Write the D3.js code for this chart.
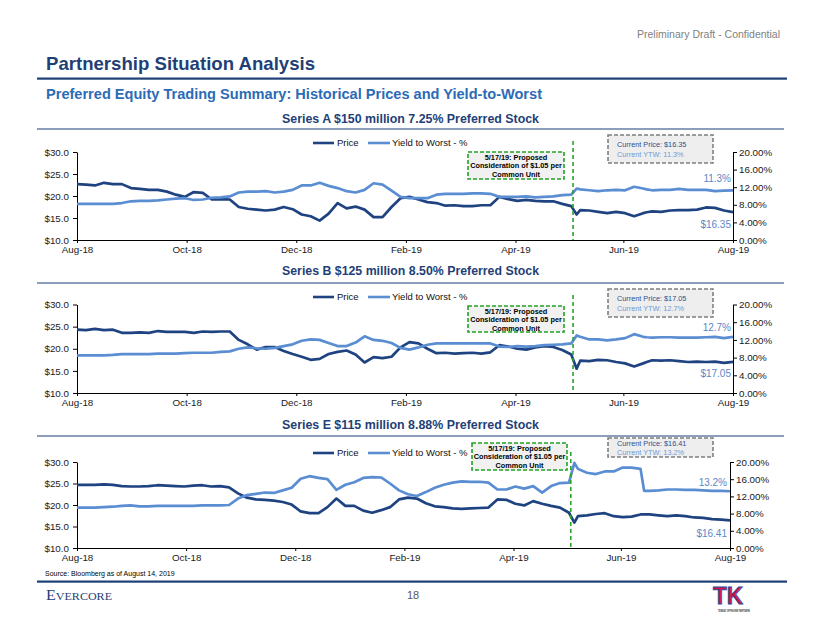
<!DOCTYPE html>
<html>
<head>
<meta charset="utf-8">
<script src="https://cdn.jsdelivr.net/npm/d3@7"></script>
<style>
  html, body { margin: 0; padding: 0; background: #ffffff; }
  svg { display: block; font-family: Arial, "Liberation Sans", sans-serif; }
</style>
</head>
<body>
<svg id="chart" width="822" height="635"></svg>
<script>
// ---------------- DATA ----------------
const dates = [
  "2018-08-14","2018-08-19","2018-08-24","2018-08-29","2018-09-03","2018-09-08","2018-09-13","2018-09-18","2018-09-23","2018-09-28",
  "2018-10-03","2018-10-08","2018-10-13","2018-10-18","2018-10-23","2018-10-28","2018-11-02","2018-11-07","2018-11-12","2018-11-17",
  "2018-11-22","2018-11-27","2018-12-02","2018-12-07","2018-12-12","2018-12-17","2018-12-22","2018-12-27","2019-01-01","2019-01-06",
  "2019-01-11","2019-01-16","2019-01-21","2019-01-26","2019-01-31","2019-02-05","2019-02-10","2019-02-15","2019-02-20","2019-02-25",
  "2019-03-02","2019-03-07","2019-03-12","2019-03-17","2019-03-22","2019-03-27","2019-04-01","2019-04-06","2019-04-11","2019-04-16",
  "2019-04-21","2019-04-26","2019-05-01","2019-05-06","2019-05-11","2019-05-16","2019-05-19","2019-05-21","2019-05-26","2019-05-31",
  "2019-06-05","2019-06-10","2019-06-15","2019-06-20","2019-06-25","2019-06-27","2019-06-30","2019-07-05","2019-07-10","2019-07-15",
  "2019-07-20","2019-07-25","2019-07-30","2019-08-04","2019-08-09","2019-08-14"
];

// Series A ($ price, YTW %)
const priceA = [
  22.7,22.6,22.4,23.0,22.7,22.7,21.8,21.6,21.4,21.4,
  21.0,20.3,19.8,20.9,20.7,19.2,19.3,19.2,17.5,17.1,
  16.9,16.7,16.9,17.5,17.0,15.8,15.4,14.4,16.0,18.4,
  17.2,17.6,16.9,15.2,15.2,17.5,19.5,19.8,19.2,18.6,
  18.4,17.8,17.9,17.7,17.7,17.9,17.9,19.8,19.3,18.9,
  19.1,18.9,18.8,18.8,18.2,17.7,15.8,16.8,16.7,16.4,
  16.1,16.4,16.1,15.4,16.1,16.3,16.5,16.4,16.7,16.8,
  16.8,16.9,17.4,17.3,16.7,16.35
];
const ytwA = [
  8.2,8.2,8.2,8.2,8.2,8.4,8.8,8.9,8.9,9.0,
  9.2,9.4,9.5,9.1,9.2,9.6,9.7,9.9,10.8,11.0,
  11.0,11.1,10.8,11.0,11.4,12.4,12.4,13.0,12.3,11.8,
  11.1,10.8,11.4,12.9,12.6,11.2,9.8,9.5,9.5,9.5,
  10.3,10.5,10.5,10.5,10.6,10.6,10.5,9.8,9.8,9.8,
  9.9,9.7,9.8,9.9,10.2,10.3,11.7,11.5,11.3,11.1,
  11.3,11.4,11.3,12.1,11.7,11.5,11.3,11.4,11.4,11.6,
  11.4,11.4,11.4,11.1,11.2,11.3
];

// Series B
const priceB = [
  24.3,24.2,24.5,24.2,24.3,23.6,23.6,23.7,23.6,24.0,
  23.8,23.8,23.8,23.6,23.9,23.8,23.9,23.9,22.0,21.0,
  19.8,20.4,20.4,19.5,18.8,18.2,17.5,17.7,18.8,19.3,
  19.6,18.7,16.9,18.1,17.9,18.2,20.3,21.5,21.2,20.0,
  19.0,19.1,18.9,19.0,19.1,18.9,19.2,20.8,20.5,20.0,
  19.8,20.3,20.6,20.4,19.7,18.7,15.5,17.3,17.2,17.5,
  17.4,17.0,16.7,16.0,16.7,17.0,17.4,17.3,17.4,17.2,
  17.0,17.1,17.0,17.1,16.8,17.05
];
const ytwB = [
  8.5,8.5,8.5,8.5,8.6,8.8,8.8,8.8,8.8,8.9,
  8.9,8.9,9.0,9.1,9.1,9.1,9.3,9.4,10.0,10.3,
  10.1,10.0,10.2,10.6,11.0,11.8,12.1,12.0,11.3,10.6,
  10.6,11.4,12.8,12.0,11.8,11.3,10.2,9.8,10.3,10.9,
  11.2,11.2,11.2,11.2,11.2,11.2,11.2,10.5,10.4,10.6,
  10.5,10.6,10.8,10.9,11.0,11.2,13.0,12.7,12.1,12.1,
  11.9,12.1,12.4,13.3,12.7,12.6,12.5,12.6,12.6,12.5,
  12.5,12.5,12.6,12.7,12.4,12.7
];

// Series E
const priceE = [
  24.7,24.7,24.7,24.8,24.7,24.4,24.3,24.3,24.4,24.6,
  24.5,24.4,24.3,24.5,24.6,24.3,24.4,24.1,22.7,21.7,
  21.3,21.2,21.0,20.7,20.1,18.5,18.1,18.1,19.5,21.5,
  19.8,19.8,18.7,18.2,18.8,19.5,21.3,21.7,21.5,20.4,
  19.7,19.5,19.2,19.1,19.2,19.3,19.4,21.3,21.2,20.3,
  19.9,20.9,20.3,19.8,19.4,18.2,15.9,17.4,17.6,17.9,
  18.1,17.4,17.2,17.3,17.8,17.8,17.8,17.6,17.4,17.6,
  17.4,17.1,17.0,16.7,16.6,16.41
];
const ytwE = [
  9.4,9.4,9.4,9.5,9.6,9.8,9.9,9.7,9.7,9.8,
  9.8,9.8,9.8,9.8,9.9,9.9,9.9,10.0,11.5,12.3,
  12.6,12.9,12.8,13.4,14.0,16.1,16.7,16.3,16.0,13.5,
  14.7,15.3,16.3,16.5,16.4,15.0,13.4,12.5,12.1,13.0,
  14.0,14.7,15.2,15.5,15.4,15.4,15.2,13.6,13.6,14.3,
  13.8,14.4,12.9,14.4,15.1,15.2,19.8,18.4,17.5,17.2,
  17.8,17.8,18.7,18.7,18.4,13.3,13.3,13.4,13.6,13.6,
  13.5,13.5,13.4,13.3,13.3,13.2
];

const seriesTitles = [
  "Series A $150 million 7.25% Preferred Stock",
  "Series B $125 million 8.50% Preferred Stock",
  "Series E $115 million 8.88% Preferred Stock"
];
const legendLabels = ["Price", "Yield to Worst - %"];
const xTickDates = ["2018-08-14","2018-10-14","2018-12-14","2019-02-13","2019-04-15","2019-06-14","2019-08-14"];
const xTickLabels = ["Aug-18","Oct-18","Dec-18","Feb-19","Apr-19","Jun-19","Aug-19"];
const priceTicks = [10, 15, 20, 25, 30];
const ytwTicks = [0, 4, 8, 12, 16, 20];
const eventDate = "2019-05-17";
const eventLines = ["5/17/19: Proposed", "Consideration of $1.05 per", "Common Unit"];

// ---------------- LAYOUT ----------------
const parse = d3.timeParse("%Y-%m-%d");
const dateObjs = dates.map(parse);
const C_PRICE = "#1f4381";
const C_YTW = "#5a8dd2";
const C_NAVY = "#1f3f77";

const layout = [
  { left: 77, right: 733, top: 152, bottom: 240, titleY: 119, ruleY: 129, legendY: 143,
    note: {x: 468, y: 152, w: 96, h: 27}, cur: {x: 608, y: 135, w: 105, h: 28}, vTop: 141,
    ytwLabelY: 178, priceLabelY: 224, labelRight: 731 },
  { left: 77, right: 733, top: 304.5, bottom: 393, titleY: 271, ruleY: 283, legendY: 297,
    note: {x: 468, y: 306, w: 96, h: 26}, cur: {x: 608, y: 289, w: 105, h: 28}, vTop: 295,
    ytwLabelY: 327, priceLabelY: 373, labelRight: 731 },
  { left: 77, right: 730, top: 462, bottom: 548, titleY: 425, ruleY: 436, legendY: 453,
    note: {x: 472, y: 443, w: 95, h: 27}, cur: {x: 608, y: 438, w: 105, h: 19}, vTop: 452,
    ytwLabelY: 482, priceLabelY: 533, labelRight: 727 }
];
const priceData = [priceA, priceB, priceE];
const ytwData = [ytwA, ytwB, ytwE];

const svg = d3.select("#chart");

// ---------------- HEADER ----------------
svg.append("text").attr("x", 780).attr("y", 38).attr("text-anchor", "end")
  .attr("font-size", 10.5).attr("fill", "#7f7f7f").text("Preliminary Draft - Confidential");
svg.append("text").attr("x", 46).attr("y", 70)
  .attr("font-size", 18.5).attr("font-weight", "bold").attr("fill", C_NAVY)
  .attr("textLength", 269).attr("lengthAdjust", "spacingAndGlyphs")
  .text("Partnership Situation Analysis");
svg.append("rect").attr("x", 37).attr("y", 77.5).attr("width", 750).attr("height", 2.2).attr("fill", C_NAVY);
svg.append("text").attr("x", 46).attr("y", 99)
  .attr("font-size", 14).attr("font-weight", "bold").attr("fill", "#2c6bb5")
  .attr("textLength", 496).attr("lengthAdjust", "spacingAndGlyphs")
  .text("Preferred Equity Trading Summary: Historical Prices and Yield-to-Worst");

// ---------------- PANELS ----------------
const x0 = parse("2018-08-14"), x1 = parse("2019-08-14");

layout.forEach((L, i) => {
  const g = svg.append("g");
  const x = d3.scaleTime().domain([x0, x1]).range([L.left, L.right]);
  const yP = d3.scaleLinear().domain([10, 30]).range([L.bottom, L.top]);
  const yY = d3.scaleLinear().domain([0, 20]).range([L.bottom, L.top]);

  // title + rule
  g.append("text").attr("x", 410.5).attr("y", L.titleY).attr("dy", "0.35em")
    .attr("text-anchor", "middle").attr("font-size", 12).attr("font-weight", "bold").attr("fill", C_NAVY)
    .attr("textLength", 257).attr("lengthAdjust", "spacingAndGlyphs")
    .text(seriesTitles[i]);
  g.append("line").attr("x1", 37).attr("x2", 784).attr("y1", L.ruleY).attr("y2", L.ruleY)
    .attr("stroke", C_NAVY).attr("stroke-width", 1);

  // legend
  const lg = g.append("g").attr("font-size", 9.5).attr("fill", "#111");
  lg.append("line").attr("x1", 313).attr("x2", 334).attr("y1", L.legendY).attr("y2", L.legendY)
    .attr("stroke", C_PRICE).attr("stroke-width", 2.6);
  lg.append("text").attr("x", 337).attr("y", L.legendY).attr("dy", "0.35em").text(legendLabels[0]);
  lg.append("line").attr("x1", 368).attr("x2", 390).attr("y1", L.legendY).attr("y2", L.legendY)
    .attr("stroke", C_YTW).attr("stroke-width", 2.6);
  lg.append("text").attr("x", 392).attr("y", L.legendY).attr("dy", "0.35em").text(legendLabels[1]);

  // axes
  const xAxis = d3.axisBottom(x).tickValues(xTickDates.map(parse))
    .tickFormat((d, k) => xTickLabels[k]).tickSize(3).tickSizeOuter(0).tickPadding(3);
  const yAxisL = d3.axisLeft(yP).tickValues(priceTicks).tickFormat(v => "$" + v.toFixed(1))
    .tickSize(4).tickSizeOuter(0).tickPadding(4);
  const yAxisR = d3.axisRight(yY).tickValues(ytwTicks).tickFormat(v => v.toFixed(2) + "%")
    .tickSize(4).tickSizeOuter(0).tickPadding(2);

  const styleAxis = sel => {
    sel.attr("font-family", null);
    sel.selectAll("path").attr("stroke", "#000").attr("stroke-width", 1);
    sel.selectAll("line").attr("stroke", "#000");
    sel.selectAll("text").attr("font-size", 9.8).attr("fill", "#1a1a1a")
      .attr("font-family", "Arial, 'Liberation Sans', sans-serif");
  };
  g.append("g").attr("transform", `translate(0,${L.bottom})`).call(xAxis).call(styleAxis);
  g.append("g").attr("transform", `translate(${L.left},0)`).call(yAxisL).call(styleAxis);
  g.append("g").attr("transform", `translate(${L.right},0)`).call(yAxisR).call(styleAxis);

  // lines
  const lineP = d3.line().x((d, k) => x(dateObjs[k])).y(d => yP(d));
  const lineY = d3.line().x((d, k) => x(dateObjs[k])).y(d => yY(d));
  g.append("path").datum(priceData[i]).attr("d", lineP).attr("fill", "none")
    .attr("stroke", C_PRICE).attr("stroke-width", 2.7).attr("stroke-linejoin", "round");
  g.append("path").datum(ytwData[i]).attr("d", lineY).attr("fill", "none")
    .attr("stroke", C_YTW).attr("stroke-width", 2.7).attr("stroke-linejoin", "round");

  // event vertical line
  const ex = x(parse(eventDate));
  g.append("line").attr("x1", ex).attr("x2", ex).attr("y1", L.vTop).attr("y2", L.bottom)
    .attr("stroke", "#2aa52a").attr("stroke-width", 1.6).attr("stroke-dasharray", "4,3");

  // event note box
  const N = L.note;
  g.append("rect").attr("x", N.x).attr("y", N.y).attr("width", N.w).attr("height", N.h)
    .attr("fill", "#f1f1f1").attr("stroke", "#22a322").attr("stroke-width", 1.6)
    .attr("stroke-dasharray", "4,2");
  eventLines.forEach((t, k) => {
    g.append("text").attr("x", N.x + N.w / 2).attr("y", N.y + 5.5 + k * 8.3).attr("dy", "0.35em")
      .attr("text-anchor", "middle").attr("font-size", 7.3).attr("font-weight", "bold").attr("fill", "#000")
      .text(t);
  });

  // current values box
  const pLast = priceData[i][priceData[i].length - 1];
  const yLast = ytwData[i][ytwData[i].length - 1];
  const Cb = L.cur;
  g.append("rect").attr("x", Cb.x).attr("y", Cb.y).attr("width", Cb.w).attr("height", Cb.h)
    .attr("fill", "#eeeeee").attr("stroke", "#7f7f7f").attr("stroke-width", 1.6)
    .attr("stroke-dasharray", "4,2");
  const lineGap = Cb.h > 22 ? 10.5 : 9;
  const firstY = Cb.y + (Cb.h > 22 ? 9 : 5.5);
  g.append("text").attr("x", Cb.x + 9).attr("y", firstY).attr("dy", "0.35em")
    .attr("font-size", 7.3).attr("fill", "#2f4f8f").text("Current Price: $" + pLast.toFixed(2));
  g.append("text").attr("x", Cb.x + 9).attr("y", firstY + lineGap).attr("dy", "0.35em")
    .attr("font-size", 7.3).attr("fill", "#6f9ad6").text("Current YTW: " + yLast.toFixed(1) + "%");

  // end labels
  g.append("text").attr("x", L.labelRight).attr("y", L.ytwLabelY).attr("dy", "0.35em")
    .attr("text-anchor", "end").attr("font-size", 10).attr("fill", "#5a87c8")
    .text(yLast.toFixed(1) + "%");
  g.append("text").attr("x", L.labelRight).attr("y", L.priceLabelY).attr("dy", "0.35em")
    .attr("text-anchor", "end").attr("font-size", 10).attr("fill", "#5a87c8")
    .text("$" + pLast.toFixed(2));
});

// ---------------- FOOTER ----------------
svg.append("text").attr("x", 45).attr("y", 574).attr("dy", "0.35em")
  .attr("font-size", 7).attr("fill", "#000").text("Source: Bloomberg as of August 14, 2019");
svg.append("rect").attr("x", 37).attr("y", 580.5).attr("width", 750).attr("height", 2.2).attr("fill", C_NAVY);
const ev = svg.append("text").attr("x", 46).attr("y", 600)
  .attr("font-family", "'Liberation Serif', 'DejaVu Serif', serif").attr("fill", C_NAVY)
  .attr("textLength", 66).attr("lengthAdjust", "spacingAndGlyphs");
ev.append("tspan").attr("font-size", 14).text("E");
ev.append("tspan").attr("font-size", 10.5).text("VERCORE");
svg.append("text").attr("x", 413).attr("y", 599).attr("text-anchor", "middle")
  .attr("font-size", 11).attr("fill", "#595959").text("18");
// Teekay logo
svg.append("text").attr("x", 713).attr("y", 604)
  .attr("font-size", 24).attr("font-weight", "900")
  .attr("fill", "#d4163c").attr("stroke", "#2a4aa8").attr("stroke-width", 0.9)
  .attr("textLength", 30).attr("lengthAdjust", "spacingAndGlyphs").text("TK");
svg.append("text").attr("x", 718).attr("y", 612)
  .attr("font-size", 3.4).attr("font-weight", "bold").attr("fill", "#333")
  .attr("textLength", 32).attr("lengthAdjust", "spacingAndGlyphs").text("TEEKAY OFFSHORE PARTNERS");
</script>
</body>
</html>
